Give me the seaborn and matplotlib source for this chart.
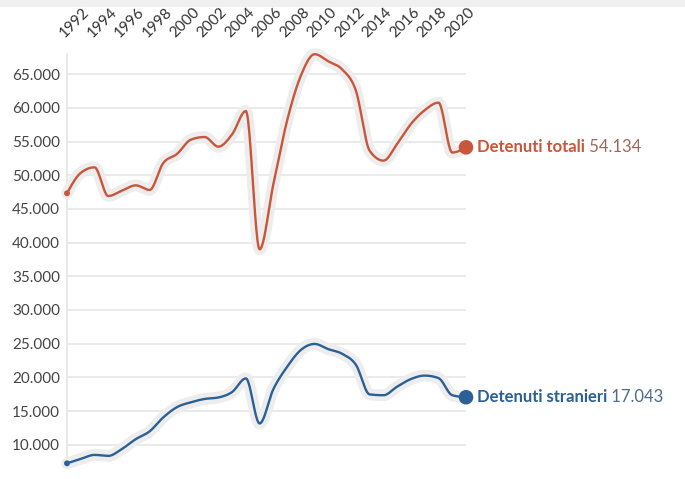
import numpy as np
import pandas as pd
import matplotlib
matplotlib.use("Agg")
import matplotlib.pyplot as plt
import matplotlib.patheffects as pe
from matplotlib.patches import Rectangle
from matplotlib.ticker import FuncFormatter
import seaborn as sns

# ---------------- data ----------------
years = list(range(1992, 2022))
totali = [47316, 50348, 51165, 46908, 47709, 48495, 47811, 51814, 53165, 55275,
          55670, 54237, 56068, 59523, 39005, 48693, 58127, 64791, 67961, 66897,
          65701, 62536, 53623, 52164, 54653, 57608, 59655, 60769, 53364, 54134]
stranieri = [7237, 7892, 8481, 8334, 9373, 10825, 11973, 14057, 15582, 16294,
             16788, 17007, 17819, 19836, 13152, 18252, 21562, 24067, 24954, 24174,
             23492, 21854, 17462, 17340, 18621, 19745, 20255, 19888, 17344, 17043]
series_names = ["Detenuti totali", "Detenuti stranieri"]
year_ticks = list(range(1992, 2021, 2))
value_ticks = list(range(10000, 65001, 5000))

colors = {"Detenuti totali": "#c9553a", "Detenuti stranieri": "#2a6095"}
value_colors = {"Detenuti totali": "#a0685a", "Detenuti stranieri": "#4d6b8a"}


def monotone_curve(x, y, n=24):
    """d3 curveMonotoneX style rendering of the line between data points."""
    x = np.asarray(x, float)
    y = np.asarray(y, float)
    h = np.diff(x)
    s = np.diff(y) / h
    m = np.zeros_like(y)
    sg = lambda v: -1.0 if v < 0 else 1.0
    for i in range(1, len(y) - 1):
        p = (s[i - 1] * h[i] + s[i] * h[i - 1]) / (h[i - 1] + h[i])
        m[i] = (sg(s[i - 1]) + sg(s[i])) * min(abs(s[i - 1]), abs(s[i]), 0.5 * abs(p))
    m[0] = (3 * s[0] - m[1]) / 2
    m[-1] = (3 * s[-1] - m[-2]) / 2
    xs, ys = [], []
    for i in range(len(y) - 1):
        t = np.linspace(0, 1, n, endpoint=(i == len(y) - 2))
        h00 = 2 * t**3 - 3 * t**2 + 1
        h10 = t**3 - 2 * t**2 + t
        h01 = -2 * t**3 + 3 * t**2
        h11 = t**3 - t**2
        xs.append(x[i] + t * h[i])
        ys.append(h00 * y[i] + h10 * h[i] * m[i] + h01 * y[i + 1] + h11 * h[i] * m[i + 1])
    return np.concatenate(xs), np.concatenate(ys)


frames = []
for name, vals in zip(series_names, [totali, stranieri]):
    cx, cy = monotone_curve(years, vals)
    frames.append(pd.DataFrame({"anno": cx, "valore": cy, "serie": name}))
curve_df = pd.concat(frames, ignore_index=True)

raw_df = pd.concat([
    pd.DataFrame({"anno": years, "valore": totali, "serie": series_names[0]}),
    pd.DataFrame({"anno": years, "valore": stranieri, "serie": series_names[1]}),
], ignore_index=True)

# ---------------- figure ----------------
sns.set_theme(style="white")
plt.rcParams["font.family"] = ["Lato", "DejaVu Sans"]

W, H = 685, 479
fig = plt.figure(figsize=(W / 100, H / 100), dpi=100)
left_px, right_px = 67, 466
top_px, bot_px = 54.2, 463.3
ax = fig.add_axes([left_px / W, 1 - bot_px / H, (right_px - left_px) / W, (bot_px - top_px) / H])

fig.add_artist(Rectangle((0, 1 - 6 / H), 1, 6 / H, transform=fig.transFigure,
                         color="#f0f0f0", zorder=0))

sns.lineplot(data=curve_df, x="anno", y="valore", hue="serie", palette=colors,
             linewidth=1.7, sort=False, estimator=None, legend=False, ax=ax)
for line in ax.lines:
    line.set_clip_on(False)
    line.set_solid_capstyle("round")
    line.set_path_effects([pe.Stroke(linewidth=8.5, foreground="#ededed", capstyle="round"),
                           pe.Normal()])
    line.set_zorder(3)

first_df = raw_df[raw_df["anno"] == years[0]]
last_df = raw_df[raw_df["anno"] == years[-1]]
sns.scatterplot(data=first_df, x="anno", y="valore", hue="serie", palette=colors,
                s=18, linewidth=0, legend=False, ax=ax, zorder=4, clip_on=False)
sns.scatterplot(data=last_df, x="anno", y="valore", hue="serie", palette=colors,
                s=110, linewidth=0, legend=False, ax=ax, zorder=5, clip_on=False)

ax.set_xlim(years[0], years[-1])
ax.set_ylim(min(stranieri), max(totali))
ax.set_yticks(value_ticks)
ax.yaxis.set_major_formatter(FuncFormatter(lambda v, p: f"{int(v):,}".replace(",", ".")))
ax.set_xticks(year_ticks)
ax.xaxis.tick_top()
ax.set_xticklabels([str(y) for y in year_ticks], rotation=45, ha="left", va="bottom",
                   rotation_mode="anchor")
ax.tick_params(axis="x", length=0, pad=10, labelsize=11, labelcolor="#333333")
ax.tick_params(axis="y", length=0, pad=5, labelsize=11, labelcolor="#444444")
ax.grid(axis="y", color="#e4e4e4", linewidth=1.1)
ax.grid(axis="x", visible=False)
for side in ["top", "right", "bottom"]:
    ax.spines[side].set_visible(False)
ax.spines["left"].set_color("#e4e4e4")
ax.spines["left"].set_linewidth(1.2)
ax.set_xlabel("")
ax.set_ylabel("")

for name, vals in zip(series_names, [totali, stranieri]):
    t1 = ax.annotate(name, xy=(years[-1], vals[-1]), xytext=(8, 0),
                     textcoords="offset points", ha="left", va="center",
                     fontsize=12, fontweight="bold", color=colors[name],
                     annotation_clip=False)
    ax.annotate(" " + f"{vals[-1]:,}".replace(",", "."), xy=(1, 0), xycoords=t1,
                ha="left", va="bottom", fontsize=12, color=value_colors[name])

fig.savefig("out.png", dpi=100)
